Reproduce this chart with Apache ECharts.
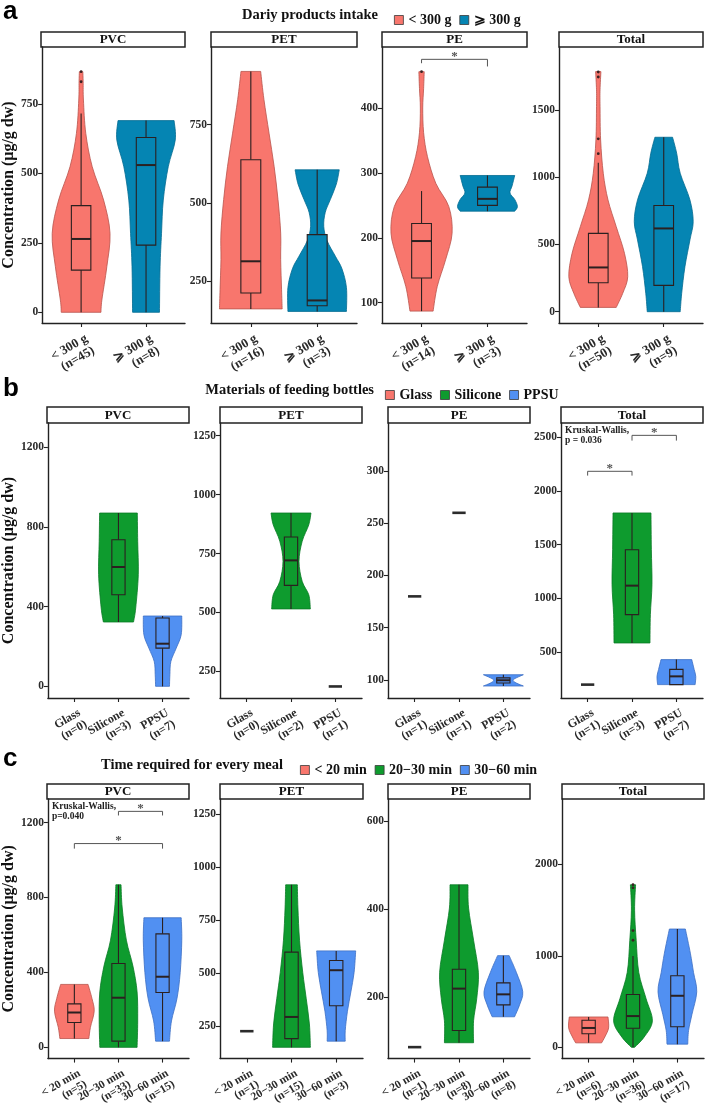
<!DOCTYPE html>
<html>
<head>
<meta charset="utf-8">
<title>Microplastic concentration by group</title>
<script src="https://cdn.jsdelivr.net/npm/echarts@6/dist/echarts.min.js"></script>
<style>
html, body { margin: 0; padding: 0; background: #fff; }
#chart { width: 708px; height: 1116px; }
</style>
</head>
<body>
<div id="chart"></div>
<script>
// violin rows are [value, relative width]; boxes are [min, q1, median, q3, max]

// a: dairy products intake
const aCats = ['< 300 g', '⩾ 300 g'];
const aPvcN = [45, 8];
const aPvcViolin = [
    [[866, 0.06], [830, 0.07], [764, 0.08], [644, 0.16], [524, 0.38], [404, 0.77], [284, 0.99], [164, 0.88], [44, 0.71], [0, 0.68]],
    [[690, 0.96], [620, 1.0], [524, 0.76], [404, 0.59], [284, 0.53], [164, 0.48], [0, 0.46]]
];
const aPvcBox = [[0, 152, 264, 384, 716], [0, 242, 530, 629, 690]];
const aPvcOut = [[830, 866], []];
const aPvcTicks = [0, 250, 500, 750];
const aPvcLim = [-38.5, 955];

const aPetN = [16, 3];
const aPetViolin = [
    [[920, 0.33], [830, 0.44], [723, 0.61], [617, 0.78], [511, 0.91], [404, 1.0], [319, 1.0], [223, 1.03], [162, 1.05]],
    [[606, 0.74], [560, 0.64], [511, 0.44], [470, 0.27], [425, 0.22], [380, 0.33], [330, 0.61], [290, 0.83], [230, 0.98], [154, 0.98]]
];
const aPetBox = [[162, 213, 314, 638, 920], [154, 172, 189, 399, 606]];
const aPetTicks = [250, 500, 750];
const aPetLim = [117, 998];

const aPeN = [14, 3];
const aPeViolin = [
    [[456, 0.09], [430, 0.07], [400, 0.04], [362, 0.07], [325, 0.2], [284, 0.48], [248, 0.92], [207, 1.03], [166, 0.81], [125, 0.53], [87, 0.39]],
    [[296, 0.92], [280, 0.83], [269, 0.76], [259, 0.92], [248, 1.01], [241, 0.92]]
];
const aPeBox = [[87, 138, 195, 222, 272], [241, 250, 260, 278, 296]];
const aPeOut = [[456], []];
const aPeTicks = [100, 200, 300, 400];
const aPeLim = [68.7, 494];
const aPeSig = [[0, 1, 475, 469, 464]];

const aTotalN = [50, 9];
const aTotalViolin = [
    [[1785, 0.09], [1650, 0.06], [1525, 0.06], [1277, 0.08], [1029, 0.17], [831, 0.33], [632, 0.61], [434, 0.89], [260, 1.0], [137, 0.83], [32, 0.61]],
    [[1297, 0.3], [1178, 0.44], [1029, 0.56], [831, 0.89], [670, 1.0], [534, 0.89], [335, 0.72], [137, 0.61], [0, 0.56]]
];
const aTotalBox = [[32, 215, 329, 582, 1107], [0, 196, 619, 790, 1297]];
const aTotalOut = [[1175, 1285, 1745, 1782], []];
const aTotalTicks = [0, 500, 1000, 1500];
const aTotalLim = [-84, 1968];

// b: materials of feeding bottles
const bCats = ['Glass', 'Silicone', 'PPSU'];
const bPvcN = [0, 3, 7];
const bPvcViolin = [
    null,
    [[870, 0.95], [728, 0.97], [561, 1.0], [393, 0.87], [323, 0.76]],
    [[353, 0.97], [259, 0.94], [192, 0.69], [125, 0.42], [59, 0.37], [0, 0.35]]
];
const bPvcBox = [null, [323, 460, 599, 736, 870], [0, 192, 214, 343, 353]];
const bPvcTicks = [0, 400, 800, 1200];
const bPvcLim = [-58.6, 1322];

const bPetN = [0, 2, 1];
const bPetViolin = [
    null,
    [[922, 1.0], [872, 0.89], [802, 0.56], [717, 0.4], [632, 0.56], [575, 0.89], [515, 0.97]],
    null
];
const bPetBox = [null, [515, 615, 721, 820, 922], [186, 186, 186, 186, 186]];
const bPetTicks = [250, 500, 750, 1000, 1250];
const bPetLim = [137, 1304];

const bPeN = [1, 1, 2];
const bPeViolin = [null, null, [[105, 1.0], [102, 0.65], [99.7, 0.48], [97, 0.65], [94.2, 1.0]]];
const bPeBox = [[180, 180, 180, 180, 180], [260, 260, 260, 260, 260], [94.2, 97, 99.7, 102, 105]];
const bPeTicks = [100, 150, 200, 250, 300];
const bPeLim = [82.7, 346];

const bTotalN = [1, 3, 7];
const bTotalViolin = [
    null,
    [[1795, 0.95], [1453, 0.97], [1130, 1.0], [848, 0.92], [584, 0.9]],
    [[429, 0.77], [338, 0.89], [273, 0.97], [196, 0.94]]
];
const bTotalBox = [[196, 196, 196, 196, 196], [584, 848, 1118, 1453, 1795], [196, 196, 273, 338, 429]];
const bTotalTicks = [500, 1000, 1500, 2000, 2500];
const bTotalLim = [71.4, 2633];
const bTotalSig = [[0, 1, 2183, 2143, 2143], [1, 2, 2518, 2469, 2469]];
const bTotalNote = ['Kruskal-Wallis,', 'p = 0.036'];
const bTotalNoteAt = 2609;

// c: time required for every meal
const cCats = ['< 20 min', '20\u221230 min', '30\u221260 min'];
const cPvcN = [5, 33, 15];
const cPvcViolin = [
    [[336, 0.69], [260, 0.89], [193, 1.0], [107, 0.81], [47, 0.73]],
    [[868, 0.13], [744, 0.19], [572, 0.4], [434, 0.73], [296, 0.94], [141, 0.97], [0, 0.94]],
    [[692, 0.94], [572, 0.97], [399, 0.89], [262, 0.73], [141, 0.45], [33, 0.35]]
];
const cPvcBox = [[47, 133, 186, 232, 336], [0, 33, 265, 448, 868], [33, 293, 377, 606, 692]];
const cPvcTicks = [0, 400, 800, 1200];
const cPvcLim = [-60, 1326];
const cPvcSig = [[1, 2, 1260, 1238, 1238], [0, 2, 1088, 1061, 1061]];
const cPvcNote = ['Kruskal-Wallis,', 'p=0.040'];
const cPvcNoteAt = 1312;

const cPetN = [1, 15, 3];
const cPetViolin = [
    null,
    [[916, 0.29], [807, 0.32], [655, 0.4], [503, 0.56], [382, 0.73], [261, 0.89], [151, 0.94]],
    [[605, 0.97], [503, 0.89], [412, 0.73], [321, 0.56], [230, 0.45], [180, 0.45]]
];
const cPetBox = [[227, 227, 227, 227, 227], [151, 192, 294, 599, 916], [180, 347, 514, 560, 605]];
const cPetTicks = [250, 500, 750, 1000, 1250];
const cPetLim = [98, 1320];

const cPeN = [1, 8, 8];
const cPeViolin = [
    null,
    [[455, 0.45], [402, 0.48], [329, 0.73], [256, 0.97], [197, 0.89], [146, 0.73], [96, 0.73]],
    [[294, 0.29], [256, 0.65], [212, 0.97], [182, 0.81], [155, 0.56]]
];
const cPeBox = [[86, 86, 86, 86, 86], [96, 124, 219, 263, 455], [155, 182, 206, 232, 294]];
const cPeTicks = [200, 400, 600];
const cPeLim = [60, 650];

const cTotalN = [6, 36, 17];
const cTotalViolin = [
    [[332, 0.97], [212, 1.0], [113, 0.81], [49, 0.65]],
    [[1778, 0.13], [1500, 0.08], [1171, 0.16], [818, 0.29], [536, 0.65], [289, 0.97], [113, 0.56], [0, 0.08]],
    [[1294, 0.4], [1030, 0.65], [818, 0.81], [607, 0.97], [360, 0.73], [183, 0.56], [35, 0.52]]
];
const cTotalBox = [[49, 148, 212, 296, 332], [0, 208, 342, 578, 1000], [35, 226, 564, 783, 1294]];
const cTotalOut = [[], [1171, 1277, 1745, 1778], []];
const cTotalTicks = [0, 1000, 2000];
const cTotalLim = [-123, 2716];

// ---- styles ----
const SERIF = "'Liberation Serif', 'Times New Roman', serif";
const INK = '#222';
const RED = '#F8766D', TEAL = '#0585B3', GREEN = '#0E9B2E', BLUE = '#5190F2';
const RED_EDGE = '#B9534B', TEAL_EDGE = '#046B90', GREEN_EDGE = '#097A24', BLUE_EDGE = '#3C6FC4';
const VIOLIN_HALF = 0.45;
const BOX_HALF = 0.15;

const rows = [
    {
        letter: 'a', title: 'Dariy products intake', cats: aCats,
        colors: [RED, TEAL], edges: [RED_EDGE, TEAL_EDGE],
        stripTop: 32, top: 47, height: 276, letterY: 12, labelSize: 13,
        legendLeft: 389, legendY: 15, titleRight: 378, nameGap: 24,
        cols: [[41, 144], [211, 146], [382, 145], [559, 144]],
        panels: [
            { name: 'PVC', n: aPvcN, violin: aPvcViolin, box: aPvcBox, out: aPvcOut, ticks: aPvcTicks, lim: aPvcLim },
            { name: 'PET', n: aPetN, violin: aPetViolin, box: aPetBox, ticks: aPetTicks, lim: aPetLim },
            { name: 'PE', n: aPeN, violin: aPeViolin, box: aPeBox, out: aPeOut, ticks: aPeTicks, lim: aPeLim, sig: aPeSig },
            { name: 'Total', n: aTotalN, violin: aTotalViolin, box: aTotalBox, out: aTotalOut, ticks: aTotalTicks, lim: aTotalLim }
        ]
    },
    {
        letter: 'b', title: 'Materials of feeding bottles', cats: bCats,
        colors: [RED, GREEN, BLUE], edges: [RED_EDGE, GREEN_EDGE, BLUE_EDGE],
        stripTop: 407, top: 423, height: 275, letterY: 389, labelSize: 12,
        legendLeft: 380, legendY: 390, titleRight: 374, nameGap: 30,
        cols: [[47, 142], [220, 142], [388, 142], [561, 142]],
        panels: [
            { name: 'PVC', n: bPvcN, violin: bPvcViolin, box: bPvcBox, ticks: bPvcTicks, lim: bPvcLim },
            { name: 'PET', n: bPetN, violin: bPetViolin, box: bPetBox, ticks: bPetTicks, lim: bPetLim },
            { name: 'PE', n: bPeN, violin: bPeViolin, box: bPeBox, ticks: bPeTicks, lim: bPeLim },
            { name: 'Total', n: bTotalN, violin: bTotalViolin, box: bTotalBox, ticks: bTotalTicks, lim: bTotalLim,
              sig: bTotalSig, note: bTotalNote, noteAt: bTotalNoteAt }
        ]
    },
    {
        letter: 'c', title: 'Time required for every meal', cats: cCats,
        colors: [RED, GREEN, BLUE], edges: [RED_EDGE, GREEN_EDGE, BLUE_EDGE],
        stripTop: 784, top: 799, height: 268, letterY: 759, labelSize: 11.5,
        legendLeft: 295, legendY: 765, titleRight: 283, nameGap: 30,
        cols: [[47, 142], [220, 143], [388, 142], [562, 142]],
        panels: [
            { name: 'PVC', n: cPvcN, violin: cPvcViolin, box: cPvcBox, ticks: cPvcTicks, lim: cPvcLim,
              sig: cPvcSig, note: cPvcNote, noteAt: cPvcNoteAt },
            { name: 'PET', n: cPetN, violin: cPetViolin, box: cPetBox, ticks: cPetTicks, lim: cPetLim },
            { name: 'PE', n: cPeN, violin: cPeViolin, box: cPeBox, ticks: cPeTicks, lim: cPeLim },
            { name: 'Total', n: cTotalN, violin: cTotalViolin, box: cTotalBox, out: cTotalOut, ticks: cTotalTicks, lim: cTotalLim }
        ]
    }
];

// catmull-rom through points, starting from the current pen position pts[0]
const curveThrough = function (pts) {
    let d = '';
    for (let i = 0; i < pts.length - 1; i++) {
        const p0 = pts[i - 1] || pts[i];
        const p1 = pts[i];
        const p2 = pts[i + 1];
        const p3 = pts[i + 2] || p2;
        const c1x = p1[0] + (p2[0] - p0[0]) / 6, c1y = p1[1] + (p2[1] - p0[1]) / 6;
        const c2x = p2[0] - (p3[0] - p1[0]) / 6, c2y = p2[1] - (p3[1] - p1[1]) / 6;
        d += 'C' + c1x + ',' + c1y + ' ' + c2x + ',' + c2y + ' ' + p2[0] + ',' + p2[1];
    }
    return d;
};

const drawGroup = function (profile, box, outliers, color, edge) {
    return function (params, api) {
        const x = api.value(0);
        const kids = [];
        if (profile) {
            const right = profile.map(function (p) { return api.coord([x + p[1] * VIOLIN_HALF, p[0]]); });
            const left = profile.map(function (p) { return api.coord([x - p[1] * VIOLIN_HALF, p[0]]); }).reverse();
            const d = 'M' + right[0][0] + ',' + right[0][1] + curveThrough(right) +
                'L' + left[0][0] + ',' + left[0][1] + curveThrough(left) + 'Z';
            kids.push({ type: 'path', shape: { pathData: d }, style: { fill: color, stroke: edge, lineWidth: 0.8 } });
        }
        if (box) {
            const lo = box[0], q1 = box[1], med = box[2], q3 = box[3], hi = box[4];
            const tl = api.coord([x - BOX_HALF, q3]);
            const br = api.coord([x + BOX_HALF, q1]);
            const m = api.coord([x, med]);
            if (lo === hi) {
                kids.push({ type: 'line', shape: { x1: tl[0], y1: m[1], x2: br[0], y2: m[1] },
                    style: { stroke: '#2b2b2b', lineWidth: 2.6 } });
            } else {
                const top = api.coord([x, hi]);
                const bot = api.coord([x, lo]);
                kids.push({ type: 'line', shape: { x1: m[0], y1: top[1], x2: m[0], y2: tl[1] }, style: { stroke: '#2b2020', lineWidth: 1.1 } });
                kids.push({ type: 'line', shape: { x1: m[0], y1: br[1], x2: m[0], y2: bot[1] }, style: { stroke: '#2b2020', lineWidth: 1.1 } });
                kids.push({ type: 'rect', shape: { x: tl[0], y: tl[1], width: br[0] - tl[0], height: Math.max(br[1] - tl[1], 0.5) },
                    style: { fill: color, stroke: '#2b2020', lineWidth: 1.1 } });
                kids.push({ type: 'line', shape: { x1: tl[0], y1: m[1], x2: br[0], y2: m[1] }, style: { stroke: '#2b2020', lineWidth: 2 } });
            }
        }
        (outliers || []).forEach(function (v) {
            const p = api.coord([x, v]);
            kids.push({ type: 'circle', shape: { cx: p[0], cy: p[1], r: 1.4 }, style: { fill: '#3a2222' } });
        });
        return { type: 'group', children: kids };
    };
};

const drawBracket = function (params, api) {
    const a = api.coord([api.value(0), api.value(2)]);
    const b = api.coord([api.value(1), api.value(2)]);
    const ta = api.coord([api.value(0), api.value(3)]);
    const tb = api.coord([api.value(1), api.value(4)]);
    return {
        type: 'group',
        children: [
            { type: 'polyline', shape: { points: [[a[0], ta[1]], a, b, [b[0], tb[1]]] },
              style: { stroke: '#555', lineWidth: 1, fill: null } },
            { type: 'text', x: (a[0] + b[0]) / 2, y: a[1] - 3,
              style: { text: '*', font: 'bold 13px ' + SERIF, fill: '#555', align: 'center', verticalAlign: 'middle' } }
        ]
    };
};

const drawNote = function (lines) {
    return function (params, api) {
        const p = api.coord([0, api.value(1)]);
        return { type: 'text', x: params.coordSys.x + 4, y: p[1],
            style: { text: lines.join('\n'), font: 'bold 9.5px ' + SERIF, lineHeight: 10, fill: '#222', align: 'left', verticalAlign: 'top' } };
    };
};

const grid = [], xAxis = [], yAxis = [], series = [], graphic = [], legend = [];

rows.forEach(function (row) {
    graphic.push({ type: 'text', x: 3, y: row.letterY,
        style: { text: row.letter, font: "bold 26px 'Liberation Sans', Arial, sans-serif", fill: '#000', verticalAlign: 'middle' } });
    graphic.push({ type: 'text', x: row.titleRight, y: row.legendY,
        style: { text: row.title, font: 'bold 14.5px ' + SERIF, fill: '#111', align: 'right', verticalAlign: 'middle' } });
    legend.push({
        data: row.cats, left: row.legendLeft, top: row.legendY - 7, orient: 'horizontal',
        icon: 'rect', itemWidth: 9, itemHeight: 9, itemGap: 8, selectedMode: false,
        itemStyle: { borderColor: '#3a3a3a', borderWidth: 0.8 },
        textStyle: { fontFamily: SERIF, fontWeight: 'bold', fontSize: 14, color: '#111' }
    });

    row.panels.forEach(function (p, c) {
        const idx = grid.length;
        const left = row.cols[c][0], width = row.cols[c][1];
        const k = row.cats.length;
        const catIdx = row.cats.map(function (_, i) { return i; });
        const mainX = xAxis.length;

        grid.push({ left: left, top: row.top, width: width, height: row.height });
        xAxis.push({
            gridIndex: idx, type: 'value', position: 'bottom', offset: 0, min: -0.6, max: k - 0.4,
            splitLine: { show: false },
            axisLine: { show: true, onZero: false, lineStyle: { color: INK, width: 1.4 } },
            axisTick: { show: true, customValues: catIdx, length: 4, lineStyle: { color: INK, width: 1.1 } },
            axisLabel: { show: false }
        });
        // one label-only axis per category so rotated labels are never dropped for overlapping
        row.cats.forEach(function (cat, i) {
            const text = cat + '\n(n=' + p.n[i] + ')';
            xAxis.push({
                gridIndex: idx, type: 'value', position: 'bottom', offset: 0, min: -0.6, max: k - 0.4,
                splitLine: { show: false }, axisLine: { show: false, onZero: false }, axisTick: { show: false },
                axisLabel: {
                    customValues: [i], formatter: function () { return text; },
                    showMinLabel: true, showMaxLabel: true,
                    rotate: 30, margin: 5, fontFamily: SERIF, fontWeight: 'bold', fontSize: row.labelSize,
                    lineHeight: row.labelSize + 1, color: '#2a2a2a', verticalAlign: 'top', padding: [4, 0, 0, 0]
                }
            });
        });
        yAxis.push({
            gridIndex: idx, type: 'value', min: p.lim[0], max: p.lim[1],
            splitLine: { show: false },
            axisLine: { show: true, onZero: false, lineStyle: { color: INK, width: 1.4 } },
            axisTick: { show: true, customValues: p.ticks, length: 4, lineStyle: { color: INK, width: 1.1 } },
            axisLabel: { customValues: p.ticks, formatter: function (v) { return String(v); },
                showMinLabel: true, showMaxLabel: true,
                margin: 4, fontFamily: SERIF, fontWeight: 'bold', fontSize: 11.5, color: '#2a2a2a' },
            name: c === 0 ? 'Concentration (\u03bcg/g dw)' : '',
            nameLocation: 'middle', nameGap: row.nameGap, nameRotate: 90,
            nameTextStyle: { fontFamily: SERIF, fontWeight: 'bold', fontSize: 16, color: '#111' }
        });

        // facet strip
        graphic.push({ type: 'rect', shape: { x: left, y: row.stripTop, width: width, height: row.top - row.stripTop },
            style: { fill: '#fff', stroke: '#222', lineWidth: 1.5 } });
        graphic.push({ type: 'text', x: left + width / 2, y: (row.stripTop + row.top) / 2 + 0.5,
            style: { text: p.name, font: 'bold 13px ' + SERIF, fill: '#111', align: 'center', verticalAlign: 'middle' } });

        row.cats.forEach(function (cat, g) {
            if (!p.violin[g] && !p.box[g]) return;
            series.push({
                type: 'custom', name: cat, xAxisIndex: mainX, yAxisIndex: idx,
                itemStyle: { color: row.colors[g] }, silent: true, clip: false,
                data: [[g, p.box[g][2]]],
                renderItem: drawGroup(p.violin[g], p.box[g], p.out ? p.out[g] : [], row.colors[g], row.edges[g])
            });
        });
        if (p.sig) {
            series.push({ type: 'custom', xAxisIndex: mainX, yAxisIndex: idx, silent: true, clip: false,
                data: p.sig, renderItem: drawBracket });
        }
        if (p.note) {
            series.push({ type: 'custom', xAxisIndex: mainX, yAxisIndex: idx, silent: true, clip: false,
                data: [[0, p.noteAt]], renderItem: drawNote(p.note) });
        }
    });
});

const chart = echarts.init(document.getElementById('chart'), null, { renderer: 'canvas' });
chart.setOption({
    backgroundColor: '#fff',
    animation: false,
    grid: grid,
    xAxis: xAxis,
    yAxis: yAxis,
    legend: legend,
    graphic: graphic,
    series: series
});
window.onresize = function () {
    chart.resize();
};
</script>
</body>
</html>
